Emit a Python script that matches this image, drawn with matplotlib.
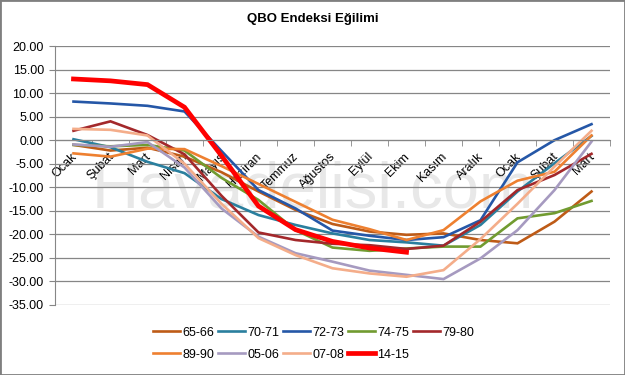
import numpy as np
import matplotlib
matplotlib.use('Agg')
import matplotlib.pyplot as plt
from matplotlib.patches import Rectangle

plt.rcParams['font.family'] = ['Liberation Sans', 'DejaVu Sans']

# Aylar (iki yıla yayılan eğilim)
aylar = ['Ocak', 'Şubat', 'Mart', 'Nisan', 'Mayıs', 'Haziran', 'Temmuz',
         'Ağustos', 'Eylül', 'Ekim', 'Kasım', 'Aralık', 'Ocak', 'Şubat', 'Mart']

# Seri değerleri (grafikten okunan tahmini değerler)
s6566 = [-1.0, -2.2, -1.6, -3.5, -6.8, -10.9, -14.8, -17.8, -19.4, -20.1, -19.8, -21.2, -21.9, -17.3, -10.9]
s7071 = [0.2, -1.5, -4.6, -7.0, -12.5, -15.9, -18.0, -19.8, -21.2, -21.7, -22.4, -18.0, -10.9, -4.9, 0.9]
s7273 = [8.2, 7.8, 7.3, 6.1, -2.3, -10.6, -14.5, -19.2, -20.3, -21.2, -20.6, -17.0, -4.7, 0.0, 3.4]
s7475 = [-1.0, -1.3, -1.0, -2.2, -8.0, -12.7, -19.1, -22.8, -23.5, -23.0, -22.6, -22.6, -16.6, -15.5, -12.9]
s7980 = [2.0, 4.0, 1.1, -3.0, -11.8, -19.6, -21.2, -22.0, -22.3, -23.1, -22.4, -17.3, -10.6, -7.4, -2.9]
s8990 = [-2.8, -3.5, -1.8, -1.9, -5.5, -9.3, -13.1, -16.9, -18.9, -21.2, -19.1, -13.0, -8.6, -6.7, 1.0]
s0506 = [-0.9, -1.4, -0.4, -5.8, -14.5, -20.5, -24.0, -25.8, -27.7, -28.6, -29.5, -25.1, -19.1, -10.6, -0.3]
s0708 = [2.4, 2.2, 1.0, -5.0, -13.5, -20.8, -24.4, -27.2, -28.3, -29.0, -27.6, -21.0, -13.5, -5.6, 2.0]
s1415 = [13.0, 12.6, 11.8, 7.0, -3.3, -14.0, -19.0, -21.5, -22.9, -23.8]

seriler = ['65-66', '70-71', '72-73', '74-75', '79-80', '89-90', '05-06', '07-08', '14-15']
degerler = [s6566, s7071, s7273, s7475, s7980, s8990, s0506, s0708, s1415]
renkler = ['#BE5B17', '#2A7F9E', '#2557A7', '#719B30', '#A3282B',
           '#EE8030', '#A69AC0', '#F4AD8A', '#FF0000']
kalinlik = [1.9] * 8 + [3.4]

fig = plt.figure(figsize=(6.25, 3.75), dpi=100)
ax = fig.add_axes([0.088, 0.1867, 0.888, 0.6906])

gri = '#868686'
x = np.arange(len(aylar)) + 0.5
handles = []
for ad, v, c, lw in zip(seriler, degerler, renkler, kalinlik):
    h, = ax.plot(x[:len(v)], v, color=c, lw=lw, label=ad, zorder=2,
                 solid_joinstyle='miter')
    handles.append(h)

ax.set_xlim(0, len(aylar))
ax.set_ylim(-35, 20)
yt = np.arange(-35, 21, 5)
ax.set_yticks(yt)
ax.set_yticklabels([f'{t:.2f}' for t in yt], fontsize=9)
ax.yaxis.grid(True, color=gri, lw=0.9)
ax.tick_params(axis='y', length=4, color=gri, pad=4)

# kategori ekseni 0 çizgisinde
ax.spines['bottom'].set_position(('data', 0))
ax.spines['bottom'].set_color(gri)
ax.spines['left'].set_color(gri)
ax.spines['top'].set_visible(False)
ax.spines['right'].set_visible(False)

ax.set_xticks(x + 0.04)
ax.set_xticklabels(aylar, fontsize=9)
ax.set_xticks(np.arange(len(aylar) + 1), minor=True)
ax.tick_params(axis='x', which='major', length=0, pad=10.5)
ax.tick_params(axis='x', which='minor', length=4, color=gri)
plt.setp(ax.get_xticklabels(), rotation=45, ha='right', va='center',
         rotation_mode='anchor')

# filigran
ax.text(313 / 625, 1 - 207 / 375, 'Havadelisi.com', transform=fig.transFigure,
        ha='center', va='baseline', fontsize=47, color='#e8e8e8', zorder=1)

fig.text(0.5, 1 - 19 / 375, 'QBO Endeksi Eğilimi', ha='center', va='center',
         fontsize=9.5, fontweight='bold')

sira = [0, 5, 1, 6, 2, 7, 3, 8, 4]
fig.legend([handles[i] for i in sira], [seriler[i] for i in sira],
           loc='center', bbox_to_anchor=(0.5016, 0.084), ncol=5, frameon=False,
           fontsize=9, handlelength=2.2, handletextpad=0.15, columnspacing=0.3,
           labelspacing=0.8, borderpad=0)

fig.patches.append(Rectangle((0, 0), 1, 1, transform=fig.transFigure, fill=False,
                             edgecolor='#7f7f7f', lw=2))

fig.savefig('out.png', dpi=100)
